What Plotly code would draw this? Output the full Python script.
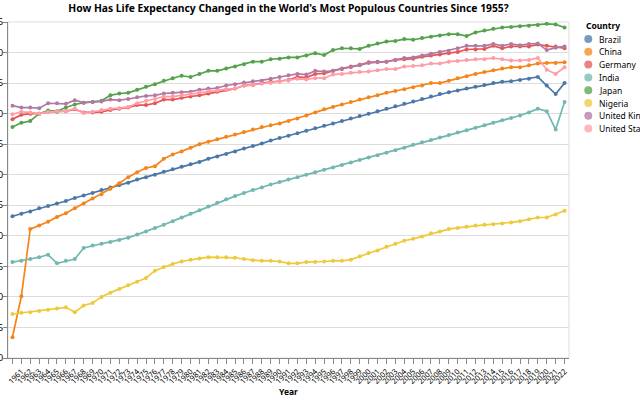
import plotly.graph_objects as go

years = list(range(1960, 2023))

countries = ["Brazil", "China", "Germany", "India", "Japan", "Nigeria",
             "United Kingdom", "United States"]
colors = ["#4c78a8", "#f58518", "#e45756", "#72b7b2", "#54a24b", "#eeca3b",
          "#b279a2", "#ff9da6"]

brazil = [53.2, 53.6, 54.0, 54.5, 54.9, 55.3, 55.7, 56.2, 56.6, 57.0,
          57.5, 57.9, 58.3, 58.7, 59.2, 59.6, 60.0, 60.5, 60.9, 61.3,
          61.7, 62.1, 62.6, 63.0, 63.4, 63.8, 64.3, 64.7, 65.1, 65.6,
          66.0, 66.4, 66.8, 67.2, 67.6, 68.0, 68.4, 68.8, 69.2, 69.6,
          70.0, 70.4, 70.8, 71.2, 71.6, 72.0, 72.4, 72.8, 73.2, 73.5,
          73.8, 74.1, 74.4, 74.7, 75.0, 75.2, 75.3, 75.5, 75.7, 76.0,
          74.6, 73.2, 75.0]
china = [33.4, 40.1, 51.1, 51.7, 52.3, 53.1, 53.7, 54.5, 55.3, 56.1,
         56.8, 57.7, 58.6, 59.6, 60.4, 61.1, 61.4, 62.6, 63.3, 63.8,
         64.4, 65.0, 65.4, 65.8, 66.2, 66.6, 67.0, 67.4, 67.8, 68.1,
         68.4, 68.8, 69.2, 69.7, 70.2, 70.7, 71.1, 71.5, 71.9, 72.3,
         72.7, 73.0, 73.4, 73.7, 74.0, 74.3, 74.6, 75.0, 75.0, 75.4,
         75.8, 76.1, 76.5, 76.8, 77.1, 77.4, 77.6, 77.6, 77.9, 78.2,
         78.3, 78.3, 78.4]
germany = [69.1, 69.8, 70.0, 70.0, 70.3, 70.3, 70.4, 70.7, 70.2, 70.2,
           70.3, 70.6, 70.8, 71.0, 71.4, 71.4, 71.7, 72.3, 72.3, 72.6,
           72.8, 73.0, 73.3, 73.6, 73.9, 74.1, 74.6, 74.7, 75.0, 75.2,
           75.3, 75.5, 76.0, 75.9, 76.5, 76.6, 77.0, 77.3, 77.7, 78.0,
           78.4, 78.5, 78.5, 78.8, 78.9, 79.0, 79.3, 79.5, 79.7, 79.9,
           80.1, 80.5, 80.5, 80.6, 81.1, 80.7, 81.0, 81.0, 81.0, 81.3,
           81.1, 81.0, 80.7]
india = [45.7, 45.9, 46.2, 46.5, 46.9, 45.5, 45.9, 46.2, 48.0, 48.4,
         48.7, 49.0, 49.3, 49.7, 50.2, 50.7, 51.3, 51.8, 52.4, 53.0,
         53.6, 54.2, 54.8, 55.4, 56.0, 56.5, 57.0, 57.5, 57.9, 58.4,
         58.8, 59.2, 59.6, 60.0, 60.4, 60.8, 61.2, 61.6, 62.0, 62.4,
         62.8, 63.2, 63.6, 64.0, 64.4, 64.9, 65.3, 65.7, 66.1, 66.5,
         66.9, 67.3, 67.7, 68.1, 68.5, 68.9, 69.3, 69.7, 70.2, 70.8,
         70.4, 67.4, 71.9]
japan = [67.8, 68.5, 68.8, 70.0, 70.5, 70.4, 71.0, 71.5, 71.8, 71.9,
         72.1, 73.0, 73.3, 73.4, 73.9, 74.4, 74.8, 75.4, 75.8, 76.2,
         76.0, 76.5, 77.0, 77.0, 77.4, 77.7, 78.1, 78.5, 78.5, 78.9,
         79.0, 79.2, 79.2, 79.5, 79.9, 79.6, 80.4, 80.7, 80.7, 80.6,
         81.1, 81.5, 81.8, 81.9, 82.2, 82.1, 82.4, 82.6, 82.8, 83.0,
         83.0, 82.7, 83.3, 83.6, 83.9, 84.1, 84.2, 84.3, 84.4, 84.5,
         84.7, 84.6, 84.1]
nigeria = [37.2, 37.4, 37.5, 37.7, 37.9, 38.1, 38.3, 37.5, 38.6, 39.0,
           40.0, 40.7, 41.3, 41.9, 42.5, 43.1, 44.3, 44.9, 45.4, 45.8,
           46.1, 46.3, 46.5, 46.5, 46.5, 46.4, 46.2, 46.0, 45.9, 45.9,
           45.8, 45.5, 45.5, 45.7, 45.7, 45.8, 45.9, 45.9, 46.1, 46.6,
           47.2, 47.6, 48.2, 48.7, 49.2, 49.5, 49.9, 50.4, 50.7, 51.1,
           51.3, 51.5, 51.7, 51.8, 51.9, 52.0, 52.2, 52.4, 52.7, 53.0,
           53.0, 53.5, 54.1]
united_kingdom = [71.3, 71.0, 71.0, 70.9, 71.7, 71.7, 71.6, 72.2, 71.8, 71.9,
                  72.0, 72.3, 72.2, 72.4, 72.7, 72.9, 73.0, 73.3, 73.4, 73.5,
                  73.6, 73.9, 74.1, 74.2, 74.6, 74.8, 75.1, 75.3, 75.4, 75.7,
                  76.0, 76.3, 76.5, 76.4, 77.0, 76.9, 77.0, 77.4, 77.6, 77.9,
                  78.3, 78.4, 78.5, 78.8, 79.1, 79.2, 79.5, 79.8, 80.1, 80.3,
                  80.7, 81.1, 81.1, 81.1, 81.4, 81.1, 81.4, 81.2, 81.4, 81.5,
                  80.4, 80.8, 81.0]
united_states = [69.9, 70.3, 70.2, 70.0, 70.3, 70.4, 70.4, 70.8, 70.1, 70.3,
                 70.6, 70.8, 70.9, 71.1, 71.7, 72.1, 72.4, 72.8, 72.8, 73.0,
                 73.2, 73.5, 73.7, 73.8, 74.0, 74.1, 74.6, 74.7, 74.9, 75.0,
                 75.2, 75.4, 75.7, 75.6, 75.8, 75.8, 76.4, 76.5, 76.7, 76.8,
                 76.9, 77.1, 77.3, 77.3, 77.7, 77.8, 77.9, 78.2, 78.2, 78.5,
                 78.6, 78.8, 78.9, 78.9, 79.1, 78.9, 78.7, 78.7, 78.8, 79.1,
                 77.2, 76.5, 77.6]

series = [brazil, china, germany, india, japan, nigeria, united_kingdom, united_states]

FONT = "Noto Sans"

fig = go.Figure()
for name, vals, col in zip(countries, series, colors):
    fig.add_trace(go.Scatter(
        x=years, y=vals, name=name, mode="lines+markers",
        line=dict(color=col, width=1.7),
        marker=dict(color=col, size=4),
        showlegend=False,
    ))

# plot area in pixels: x 8..569, y 22..358
L, R, T, B = 8, 569, 22, 358
W, H = R - L, B - T

def px2paper_x(px):
    return (px - L) / W

def px2paper_y(py):
    return 1 - (py - T) / H

shapes = []
annotations = []
annotations.append(dict(
    x=px2paper_x(583.5), y=px2paper_y(25.5), xref="paper", yref="paper",
    text="<b>Country</b>", showarrow=False, xanchor="left", yanchor="middle",
    font=dict(family=FONT, size=8.5, color="#000"),
))
for k, (name, col) in enumerate(zip(countries, colors)):
    cy = 39 + 12.8 * k
    cx = 588.3
    shapes.append(dict(
        type="circle", xref="paper", yref="paper",
        xsizemode="pixel", ysizemode="pixel",
        xanchor=px2paper_x(cx), yanchor=px2paper_y(cy),
        x0=-4, x1=4, y0=-4, y1=4,
        fillcolor=col, opacity=0.75, line=dict(width=0),
    ))
    annotations.append(dict(
        x=px2paper_x(596.5), y=px2paper_y(cy), xref="paper", yref="paper",
        text=name, showarrow=False, xanchor="left", yanchor="middle",
        font=dict(family=FONT, size=8.5, color="#000"),
    ))

fig.update_layout(
    width=640, height=400,
    margin=dict(l=L, r=640 - R, t=T, b=400 - B, autoexpand=False),
    paper_bgcolor="white", plot_bgcolor="white",
    font=dict(family=FONT, color="#000"),
    title=dict(
        text="<b>How Has Life Expectancy Changed in the World's Most Populous Countries Since 1955?</b>",
        x=0.5, xref="paper", xanchor="center",
        y=1 - 8.5 / 400, yref="container", yanchor="middle",
        font=dict(family=FONT, size=10.3, color="#000"),
    ),
    xaxis=dict(
        range=[1959.5, 2022.5], tickmode="linear", tick0=1960, dtick=1,
        tickangle=-45, ticks="outside", ticklen=5, tickcolor="#888",
        showgrid=False, showline=True, linecolor="#888", linewidth=1,
        zeroline=False, mirror=False, automargin=False,
        tickfont=dict(family=FONT, size=7.7, color="#000"),
        title=dict(text="<b>Year</b>", font=dict(family=FONT, size=8.5, color="#000"),
                   standoff=2),
    ),
    yaxis=dict(
        range=[30, 85], tickmode="linear", tick0=30, dtick=5,
        ticks="outside", ticklen=4, tickcolor="#888",
        showgrid=True, gridcolor="#ddd", gridwidth=1,
        showline=True, linecolor="#888", linewidth=1,
        zeroline=False, automargin=False, ticklabelstandoff=-2,
        tickfont=dict(family=FONT, size=9, color="#000"),
    ),
    shapes=shapes + [dict(type="rect", xref="paper", yref="paper", x0=0, x1=1,
                          y0=0, y1=1, line=dict(color="#ddd", width=1),
                          layer="below")],
    annotations=annotations,
    showlegend=False,
)

fig.write_html("out.html")
